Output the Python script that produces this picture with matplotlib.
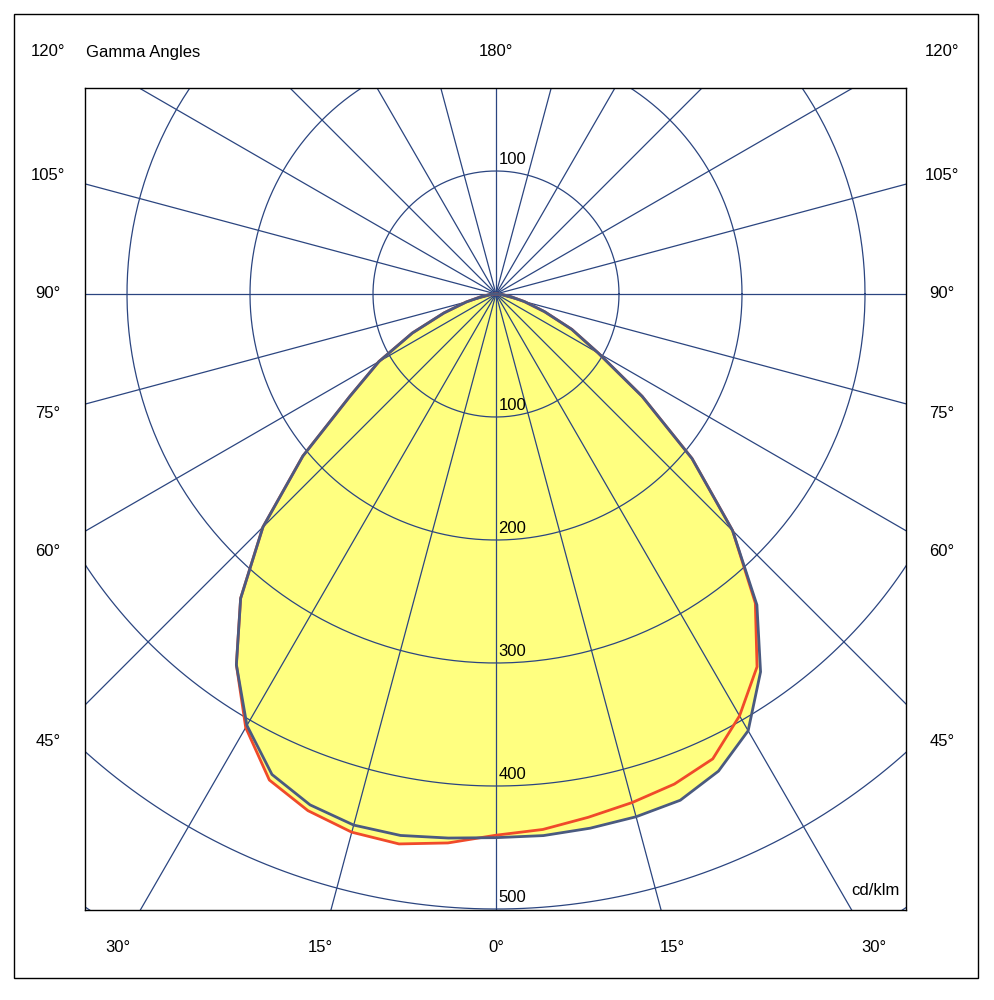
import matplotlib
matplotlib.use('Agg')
import matplotlib.pyplot as plt
import numpy as np
from matplotlib.patches import Rectangle

plt.rcParams['font.family'] = 'Liberation Sans'

# gamma angles (deg) and intensities in cd/klm
gamma = [0, 5, 10, 15, 20, 25, 30, 35, 40, 45, 50, 55, 60, 65, 70, 75, 80, 85, 90]
blue_left = [442, 444, 447, 447, 442, 431, 405, 368, 323, 268, 205, 145, 110, 75, 45, 25, 12, 5, 0]
blue_right = [442, 442, 441, 440, 438, 428, 410, 375, 330, 272, 208, 145, 96, 68, 42, 24, 12, 5, 0]
red_left = [440, 448, 454, 453, 447, 436, 407, 368, 323, 268, 205, 145, 110, 75, 45, 25, 12, 5, 0]
red_right = [439, 437, 432, 428, 424, 417, 396, 370, 328, 272, 208, 145, 96, 68, 42, 24, 12, 5, 0]

ring_vals = [100, 200, 300, 400, 500]
side_labels = ['120°', '105°', '90°', '75°', '60°', '45°']
side_y = [52, 175, 294, 413, 552, 741]
bottom_labels = ['30°', '15°', '0°', '15°', '30°']
bottom_x = [118, 320, 496, 672, 874]

grid_c = '#2B4580'

def curve(left, right):
    g = np.radians(gamma)
    xl = -np.array(left) * np.sin(g)
    yl = -np.array(left) * np.cos(g)
    xr = np.array(right) * np.sin(g)
    yr = -np.array(right) * np.cos(g)
    x = np.concatenate([xl[::-1], xr[1:]])
    y = np.concatenate([yl[::-1], yr[1:]])
    return x, y

fig = plt.figure(figsize=(9.94, 10), dpi=100)
fig.patches.append(Rectangle((14/994, 22/1000), 964/994, 964/1000, transform=fig.transFigure,
                             fill=False, edgecolor='black', linewidth=1))
s = 1.23
ax = fig.add_axes([85/994, 90/1000, 821/994, 822/1000])
ax.set_xlim((85-496)/s, (906-496)/s)
ax.set_ylim((294-910)/s, (294-88)/s)
ax.set_xticks([]); ax.set_yticks([])
for sp in ax.spines.values():
    sp.set_linewidth(1)

rx, ry = curve(red_left, red_right)
bx, by = curve(blue_left, blue_right)
ax.fill(rx, ry, color='#FFFF80', zorder=1, linewidth=0)
ax.fill(bx, by, color='#FFFF80', zorder=1, linewidth=0)

th = np.linspace(0, 2*np.pi, 400)
for r in range(100, 800, 100):
    ax.plot(r*np.cos(th), r*np.sin(th), color=grid_c, linewidth=0.9, zorder=2)
for a in range(0, 360, 15):
    t = np.radians(a)
    ax.plot([0, 1000*np.cos(t)], [0, 1000*np.sin(t)], color=grid_c, linewidth=0.9, zorder=2)

ax.plot(rx, ry, color='#F04A2A', linewidth=2, zorder=3)
ax.plot(bx, by, color='#4A5A80', linewidth=2, zorder=4)

ax.text(2, 103, '100', fontsize=12, ha='left', va='bottom', zorder=5)
for r in ring_vals:
    ax.text(2, -r + 3, str(r), fontsize=12, ha='left', va='bottom', zorder=5)
ax.text((900-496)/s, (294-898)/s, 'cd/klm', fontsize=12, ha='right', va='bottom', zorder=5)

for lab, y in zip(side_labels, side_y):
    fig.text(48/994, 1 - y/1000, lab, fontsize=12, ha='center', va='center')
    fig.text(942/994, 1 - y/1000, lab, fontsize=12, ha='center', va='center')
fig.text(86/994, 1 - 52/1000, 'Gamma Angles', fontsize=12, ha='left', va='center')
fig.text(496/994, 1 - 52/1000, '180°', fontsize=12, ha='center', va='center')
for lab, x in zip(bottom_labels, bottom_x):
    fig.text(x/994, 1 - 947/1000, lab, fontsize=12, ha='center', va='center')

fig.savefig('out.png', dpi=100)
plt.close()
